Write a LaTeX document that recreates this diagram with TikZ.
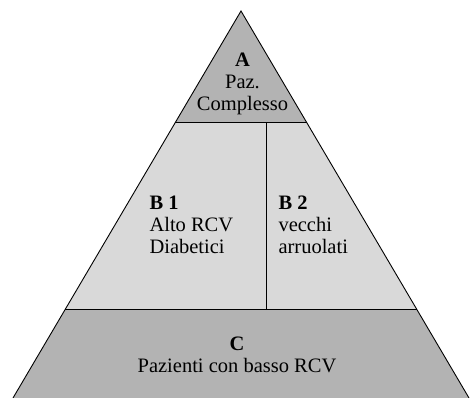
\documentclass[tikz,border=0pt]{standalone}
\usepackage{fontspec}
\setmainfont{Liberation Serif}
\definecolor{darkgrey}{HTML}{B3B3B3}
\definecolor{lightgrey}{HTML}{D9D9D9}
\begin{document}
\begin{tikzpicture}[x=1pt,y=1pt,
  edge/.style={draw=black,line width=0.9pt,line join=miter},
  sep/.style={draw=black,line width=1pt},
  lbl/.style={inner sep=0pt,font=\fontsize{20.5}{22}\selectfont}]
\useasboundingbox (0,0) rectangle (471,398);
% coordinates
\coordinate (apex) at (241,387);
\coordinate (abL) at (175,275);
\coordinate (abR) at (307,275);
\coordinate (bcL) at (65,88);
\coordinate (bcR) at (417,88);
\coordinate (baseL) at (13,0);
\coordinate (baseR) at (469,0);
\coordinate (divT) at (266,275);
\coordinate (divB) at (266,88);
% fills
\fill[darkgrey] (abL) -- (apex) -- (abR) -- cycle;
\fill[lightgrey] (bcL) -- (abL) -- (abR) -- (bcR) -- cycle;
\fill[darkgrey] (baseL) -- (bcL) -- (bcR) -- (baseR) -- cycle;
% lines
\draw[sep] (abL) -- (abR);
\draw[sep] (bcL) -- (bcR);
\draw[sep] (divT) -- (divB);
\draw[edge] (baseL) -- (apex) -- (baseR);
% labels
\node[lbl,align=center] (A) at (242.5,314.2) {\textbf{A}\\Paz.\\Complesso};
\node[lbl,align=left,anchor=west] (B1) at (149.3,173.6) {\textbf{B 1}\\Alto RCV\\Diabetici};
\node[lbl,align=left,anchor=west] (B2) at (278.3,173.6) {\textbf{B 2}\\vecchi\\arruolati};
\node[lbl,align=center] (C) at (237,43.4) {\textbf{C}\\Pazienti con basso RCV};
\end{tikzpicture}
\end{document}
